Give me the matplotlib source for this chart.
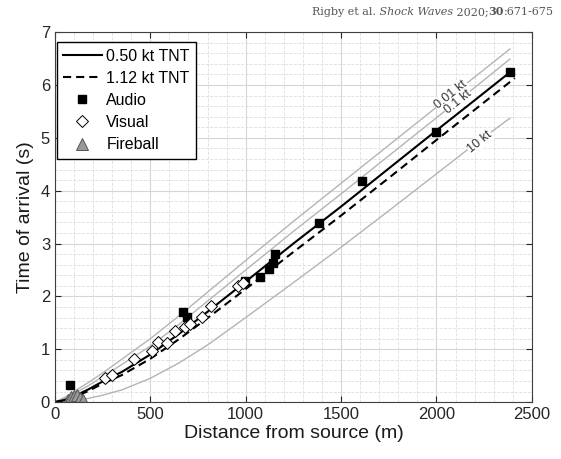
import numpy as np
import matplotlib.pyplot as plt
from matplotlib.ticker import MultipleLocator

plt.rcParams['font.family'] = ['Liberation Sans', 'DejaVu Sans']

# model curves (distance m, time s)
d_curve = [0, 50, 100, 175, 250, 350, 500, 650, 800, 1000, 1250, 1500, 1750, 2000, 2200, 2385]
t_001kt = [0, 0.09, 0.20, 0.37, 0.55, 0.81, 1.20, 1.63, 2.08, 2.68, 3.42, 4.14, 4.86, 5.58, 6.15, 6.68]
t_01kt = [0, 0.07, 0.16, 0.31, 0.48, 0.71, 1.06, 1.47, 1.91, 2.50, 3.23, 3.94, 4.66, 5.38, 5.95, 6.49]
t_050kt = [0, 0.04, 0.11, 0.24, 0.39, 0.57, 0.90, 1.29, 1.71, 2.28, 3.00, 3.70, 4.42, 5.14, 5.71, 6.24]
d_dash = [0, 50, 100, 175, 250, 350, 500, 650, 800, 1000, 1250, 1500, 1750, 2000, 2200, 2411]
t_112kt = [0, 0.03, 0.09, 0.21, 0.35, 0.51, 0.82, 1.19, 1.59, 2.14, 2.84, 3.53, 4.24, 4.96, 5.53, 6.13]
t_10kt = [0, 0.01, 0.03, 0.07, 0.13, 0.23, 0.45, 0.74, 1.08, 1.60, 2.26, 2.93, 3.62, 4.32, 4.88, 5.37]

# observations
audio_d = [79, 671, 692, 996, 1074, 1122, 1143, 1153, 1384, 1609, 1997, 2385]
audio_t = [0.32, 1.70, 1.61, 2.29, 2.36, 2.52, 2.63, 2.80, 3.39, 4.18, 5.11, 6.24]
visual_d = [262, 298, 414, 508, 540, 587, 629, 681, 708, 770, 817, 959, 985]
visual_t = [0.45, 0.52, 0.81, 0.97, 1.13, 1.12, 1.34, 1.42, 1.47, 1.61, 1.82, 2.19, 2.25]
fire_d = [70, 85, 100, 115, 130, 145]
fire_t = [0.03, 0.09, 0.12, 0.13, 0.08, 0.03]

fig = plt.figure(figsize=(5.61, 4.59), dpi=100)
ax = fig.add_axes([0.098, 0.124, 0.850, 0.806])

grey = '#b4b4b4'
ax.plot(d_curve, t_001kt, color=grey, lw=1)
ax.plot(d_curve, t_01kt, color=grey, lw=1)
ax.plot(d_curve, t_10kt, color=grey, lw=1)
ax.plot(d_curve, t_050kt, color='black', lw=1.5, label='0.50 kt TNT')
ax.plot(d_dash, t_112kt, color='black', lw=1.5, dashes=(3.9, 2.4), label='1.12 kt TNT')
ax.plot(audio_d, audio_t, 's', color='black', ms=6, label='Audio')
ax.plot(visual_d, visual_t, 'D', mfc='white', mec='black', mew=0.7, ms=6, label='Visual')
ax.plot(fire_d, fire_t, '^', mfc='#999999', mec='#555555', mew=0.7, ms=8, label='Fireball')

# inline curve labels
lab = dict(rotation=39, ha='center', va='center', fontsize=9, color='#333333',
           bbox=dict(facecolor='white', edgecolor='none', pad=0.5))
ax.text(2076, 5.82, '0.01 kt', **lab)
ax.text(2112, 5.68, '0.1 kt', **lab)
ax.text(2227, 4.93, '10 kt', **lab)

ax.set_xlim(0, 2500)
ax.set_ylim(0, 7)
ax.xaxis.set_major_locator(MultipleLocator(500))
ax.xaxis.set_minor_locator(MultipleLocator(100))
ax.yaxis.set_major_locator(MultipleLocator(1))
ax.yaxis.set_minor_locator(MultipleLocator(0.2))
ax.set_axisbelow(True)
ax.grid(which='major', color='#d6d6d6', lw=0.8)
ax.grid(which='minor', color='#dedede', ls='--', lw=0.6)
ax.tick_params(which='major', direction='in', top=True, right=True, length=4,
               labelsize=12, colors='#262626')
ax.tick_params(which='minor', length=0)
for s in ax.spines.values():
    s.set_color('#404040')
    s.set_linewidth(0.8)

ax.set_xlabel('Distance from source (m)', fontsize=14, color='#1a1a1a', labelpad=2)
ax.set_ylabel('Time of arrival (s)', fontsize=14, color='#1a1a1a', labelpad=5)

ax.legend(loc='upper left', fontsize=11.5, frameon=True, fancybox=False,
          edgecolor='black', framealpha=1, handlelength=2.4, handletextpad=0.3,
          borderpad=0.4, labelspacing=0.45, borderaxespad=0,
          bbox_to_anchor=(0.004, 0.973))

# citation header
hdr = dict(fontsize=8, color='#555555', family='DejaVu Serif', va='bottom')
t1 = fig.text(0.556, 0.962, 'Rigby et al.', **hdr)
t2 = ax.annotate(' Shock Waves', xy=(1, 0), xycoords=t1, style='italic',
                 annotation_clip=False, **hdr)
t3 = ax.annotate(' 2020;', xy=(1, 0), xycoords=t2, annotation_clip=False, **hdr)
t4 = ax.annotate('30', xy=(1, 0), xycoords=t3, weight='bold', annotation_clip=False, **hdr)
ax.annotate(':671-675', xy=(1, 0), xycoords=t4, annotation_clip=False, **hdr)

fig.savefig('out.png', dpi=100)
